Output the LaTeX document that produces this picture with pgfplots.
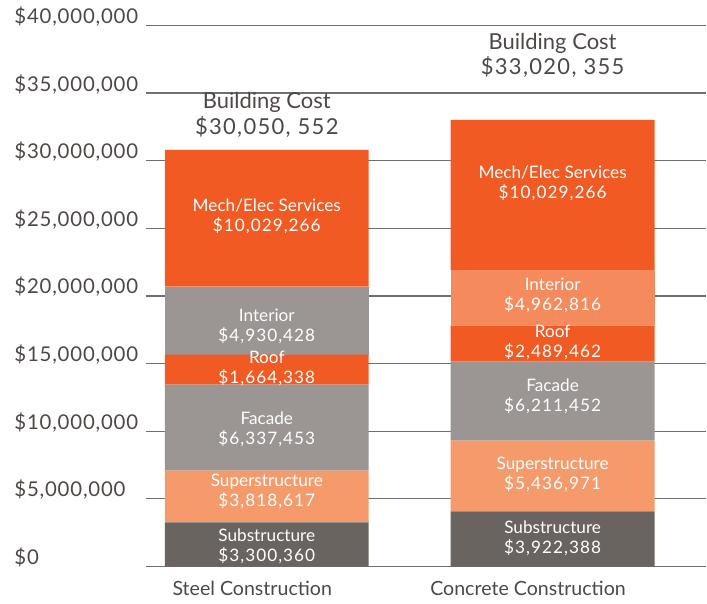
\documentclass[border=0pt]{standalone}
\usepackage{fontspec}
\setmainfont{Lato}
\usepackage{pgfplots}
\usepackage{pgfplotstable}
\pgfplotsset{compat=1.18}
\definecolor{cOrange}{HTML}{F15A22}
\definecolor{cLight}{HTML}{F59A6B}
\definecolor{cLight2}{HTML}{F58B5C}
\definecolor{cGray}{HTML}{9B9593}
\definecolor{cDark}{HTML}{6A6461}
\definecolor{cText}{HTML}{4D4846}
\definecolor{cGrid}{HTML}{707070}
\newcommand{\num}[1]{{\addfontfeature{LetterSpace=6}#1}}
\newcommand{\tnum}[1]{{\addfontfeature{LetterSpace=4}#1}}

\pgfplotstableread{
x sub super facade roof intsteel intconc mech
0 3270000 3820000 6350000 2220000 5020000 0 10120000
1 4080000 5230000 5830000 2680000 0 4110000 11080000
}\costs

\begin{document}
\begin{tikzpicture}
\begin{axis}[
  scale only axis, width=280.5pt, height=283pt,
  ybar stacked, bar width=102pt,
  xmin=-0.423, xmax=1.538, ymin=0, ymax=41.8e6,
  axis line style={draw=none}, tick style={draw=none},
  major tick length=0pt,
  clip=false,
  ytick={0,5000000,10000000,15000000,20000000,25000000,30000000,35000000,40000000},
  yticklabels={{\tnum{\$0}},{\tnum{\$5,000,000}},{\tnum{\$10,000,000}},{\tnum{\$15,000,000}},{\tnum{\$20,000,000}},{\tnum{\$25,000,000}},{\tnum{\$30,000,000}},{\tnum{\$35,000,000}},{\tnum{\$40,000,000}}},
  scaled y ticks=false,
  ymajorgrids, grid style={color=cGrid, line width=0.6pt},
  yticklabel style={anchor=base west, xshift=-66pt, yshift=1pt, inner xsep=0pt, font=\fontsize{10.2}{12}\selectfont, text=cText},
  xtick={-0.051,0.914},
  xticklabels={Steel Construction, Concrete Construction},
  xticklabel style={anchor=center, yshift=-11pt, font=\fontsize{9.8}{11}\selectfont, text=cText},
]
\addplot[fill=cDark, draw=none] table[x=x,y=sub]{\costs};
\addplot[fill=cLight, draw=none] table[x=x,y=super]{\costs};
\addplot[fill=cGray, draw=none] table[x=x,y=facade]{\costs};
\addplot[fill=cOrange, draw=none] table[x=x,y=roof]{\costs};
\addplot[fill=cGray, draw=none] table[x=x,y=intsteel]{\costs};
\addplot[fill=cLight2, draw=none] table[x=x,y=intconc]{\costs};
\addplot[fill=cOrange, draw=none] table[x=x,y=mech]{\costs};

\coordinate (bl) at (rel axis cs:0,0);
\coordinate (tr) at (rel axis cs:1,1);
\coordinate (a1) at (axis cs:0,25920000);
\coordinate (a2) at (axis cs:0,17730000);
\coordinate (a3) at (axis cs:0,14620000);
\coordinate (a4) at (axis cs:0,10120000);
\coordinate (a5) at (axis cs:0,5540000);
\coordinate (a6) at (axis cs:0,1480000);
\coordinate (b1) at (axis cs:1,28290000);
\coordinate (b2) at (axis cs:1,20010000);
\coordinate (b3) at (axis cs:1,16540000);
\coordinate (b4) at (axis cs:1,12560000);
\coordinate (b5) at (axis cs:1,6790000);
\coordinate (b6) at (axis cs:1,2070000);
\node[align=center, text=cText, font=\fontsize{11}{13}\selectfont] at (axis cs:0,33380000) {Building Cost\\\num{\$30,050, 552}};
\node[align=center, text=cText, font=\fontsize{11}{13}\selectfont] at (axis cs:1,37780000) {Building Cost\\\num{\$33,020, 355}};
\end{axis}
\begin{scope}[every node/.style={align=center, text=white, font=\fontsize{8.6}{10}\selectfont}]
\node at (a1) {Mech/Elec Services\\\num{\$10,029,266}};
\node at (a2) {Interior\\\num{\$4,930,428}};
\node at (a3) {Roof\\\num{\$1,664,338}};
\node at (a4) {Facade\\\num{\$6,337,453}};
\node at (a5) {Superstructure\\\num{\$3,818,617}};
\node at (a6) {Substructure\\\num{\$3,300,360}};
\node at (b1) {Mech/Elec Services\\\num{\$10,029,266}};
\node at (b2) {Interior\\\num{\$4,962,816}};
\node at (b3) {Roof\\\num{\$2,489,462}};
\node at (b4) {Facade\\\num{\$6,211,452}};
\node at (b5) {Superstructure\\\num{\$5,436,971}};
\node at (b6) {Substructure\\\num{\$3,922,388}};
\end{scope}
\path (bl) ++(-73pt,-18.5pt) rectangle (tr);
\end{tikzpicture}
\end{document}
